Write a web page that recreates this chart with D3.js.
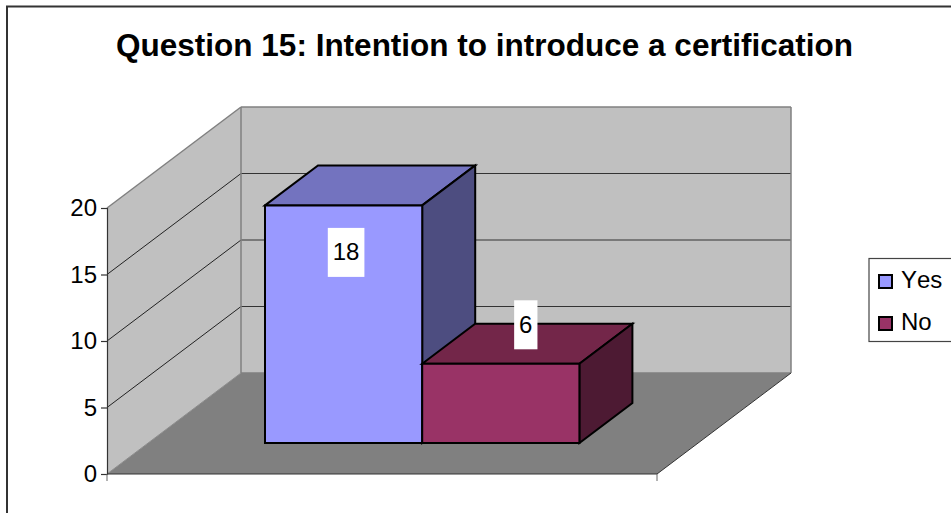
<!DOCTYPE html>
<html><head><meta charset="utf-8">
<script src="https://cdn.jsdelivr.net/npm/d3@7"></script>
<style>
html,body{margin:0;padding:0;background:#fff;overflow:hidden}
svg{display:block}
text{font-family:"Liberation Sans",Arial,sans-serif;fill:#000}
</style></head><body>
<svg id="c" width="951" height="513"></svg>
<script>
const titleText = "Question 15: Intention to introduce a certification";
const seriesNames = ["Yes", "No"];
const seriesValues = [18, 6];
const frontColors = ["#9999FF", "#993366"];
const topColors = ["#7373BF", "#732649"];
const sideColors = ["#4D4D80", "#4D1A33"];
const yTicks = [0, 5, 10, 15, 20];

const svg = d3.select("#c");
const y = d3.scaleLinear().domain([0, 20]).range([474, 208]);
const barBase = 443;
const barY = d3.scaleLinear().domain([0, 20]).range([barBase, 179]);
const x = d3.scaleBand().domain(seriesNames).range([265, 579.4]);
const plotL = 107, plotR = 657;
const depthX = 134, depthY = -101;
const barDX = 53, barDY = -40;

const line = d3.line();
const poly = (pts, fill, stroke, sw) => svg.append("path")
  .attr("d", line(pts) + "Z").attr("fill", fill)
  .attr("stroke", stroke || "none").attr("stroke-width", sw || 0).attr("stroke-linejoin", "miter");
const seg = (a, b, c, w) => svg.append("line")
  .attr("x1", a[0]).attr("y1", a[1]).attr("x2", b[0]).attr("y2", b[1])
  .attr("stroke", c).attr("stroke-width", w);

// chart frame: runs off the right and bottom of the picture
svg.append("rect").attr("x", 7).attr("y", 6.5).attr("width", 980).attr("height", 540)
  .attr("fill", "#fff").attr("stroke", "#333").attr("stroke-width", 2);

// title
svg.append("text").attr("x", 484.5).attr("y", 56).attr("text-anchor", "middle")
  .attr("font-size", 31.5).attr("font-weight", "bold").text(titleText);

const y0 = y(0), yTop = y(20);
// walls and floor
poly([[plotL, yTop], [plotL + depthX, yTop + depthY], [plotL + depthX, y0 + depthY], [plotL, y0]], "#C0C0C0");
poly([[plotL + depthX, yTop + depthY], [plotR + depthX, yTop + depthY], [plotR + depthX, y0 + depthY], [plotL + depthX, y0 + depthY]], "#C0C0C0");
poly([[plotL, y0], [plotR, y0], [plotR + depthX, y0 + depthY], [plotL + depthX, y0 + depthY]], "#808080");

// gridlines
yTicks.filter(t => t > 0 && t < 20).forEach(t => {
  seg([plotL, y(t)], [plotL + depthX, y(t) + depthY], "#222", 1);
  seg([plotL + depthX, y(t) + depthY], [plotR + depthX, y(t) + depthY], "#333", 1);
});
// wall edges
const edge = "#808080";
seg([plotL, yTop], [plotL + depthX, yTop + depthY], edge, 1.5);
seg([plotL + depthX, yTop + depthY], [plotR + depthX, yTop + depthY], edge, 1.5);
seg([plotL + depthX, yTop + depthY], [plotL + depthX, y0 + depthY], edge, 1.5);
seg([plotR + depthX, yTop + depthY], [plotR + depthX, y0 + depthY], edge, 1.5);
seg([plotL + depthX, y0 + depthY], [plotR + depthX, y0 + depthY], edge, 1.5);
seg([plotL, y0], [plotL + depthX, y0 + depthY], "#8c8c8c", 1);
seg([plotR, y0], [plotR + depthX, y0 + depthY], "#333", 1);

// y axis through d3
const axisG = svg.append("g").attr("transform", `translate(${plotL},0)`)
  .call(d3.axisLeft(y).tickValues(yTicks).tickSize(6).tickPadding(4).tickFormat(d3.format("d")));
axisG.selectAll("path,line").attr("stroke", "#333").attr("stroke-width", 1.2);
axisG.attr("font-size", 24).attr("font-family", null);
axisG.selectAll("text").attr("fill", "#000");

// x axis
seg([plotL, y0], [plotR, y0], "#333", 1.2);
seg([plotL, y0], [plotL, y0 + 7], "#666", 1);
seg([plotR, y0], [plotR, y0 + 7], "#666", 1);

// bars, left to right so the later bar overlaps the earlier side face
const bw = x.bandwidth();
seriesNames.forEach((n, i) => {
  const v = seriesValues[i];
  const L = x(n), R = L + bw, T = barY(v), B = barY(0);
  poly([[L, T], [L + barDX, T + barDY], [R + barDX, T + barDY], [R, T]], topColors[i], "#000", 2);
  poly([[R, T], [R + barDX, T + barDY], [R + barDX, B + barDY], [R, B]], sideColors[i], "#000", 2);
  poly([[L, T], [R, T], [R, B], [L, B]], frontColors[i], "#000", 2);
});

// data labels
const labelH = 49;
const labelCfg = [{ dx: 2.5, dy: 47 }, { dx: 25, dy: -39 }];
seriesNames.forEach((n, i) => {
  const v = seriesValues[i];
  const cx = x(n) + bw / 2 + labelCfg[i].dx;
  const cy = barY(v) + labelCfg[i].dy;
  const txt = String(v);
  const w = txt.length * 13.3 + 10;
  svg.append("rect").attr("x", cx - w / 2).attr("y", cy - labelH / 2).attr("width", w).attr("height", labelH).attr("fill", "#fff");
  svg.append("text").attr("x", cx).attr("y", cy + 8).attr("text-anchor", "middle").attr("font-size", 24).text(txt);
});

// legend
svg.append("rect").attr("x", 869).attr("y", 258.5).attr("width", 100).attr("height", 83)
  .attr("fill", "#fff").attr("stroke", "#444").attr("stroke-width", 1.2);
seriesNames.forEach((n, i) => {
  const yy = 275 + i * 42;
  svg.append("rect").attr("x", 879).attr("y", yy).attr("width", 13).attr("height", 13)
    .attr("fill", frontColors[i]).attr("stroke", "#000").attr("stroke-width", 2);
  svg.append("text").attr("x", 901).attr("y", yy + 13).attr("font-size", 24)
    .style("font-kerning", "none").text(n);
});
</script>
</body></html>
